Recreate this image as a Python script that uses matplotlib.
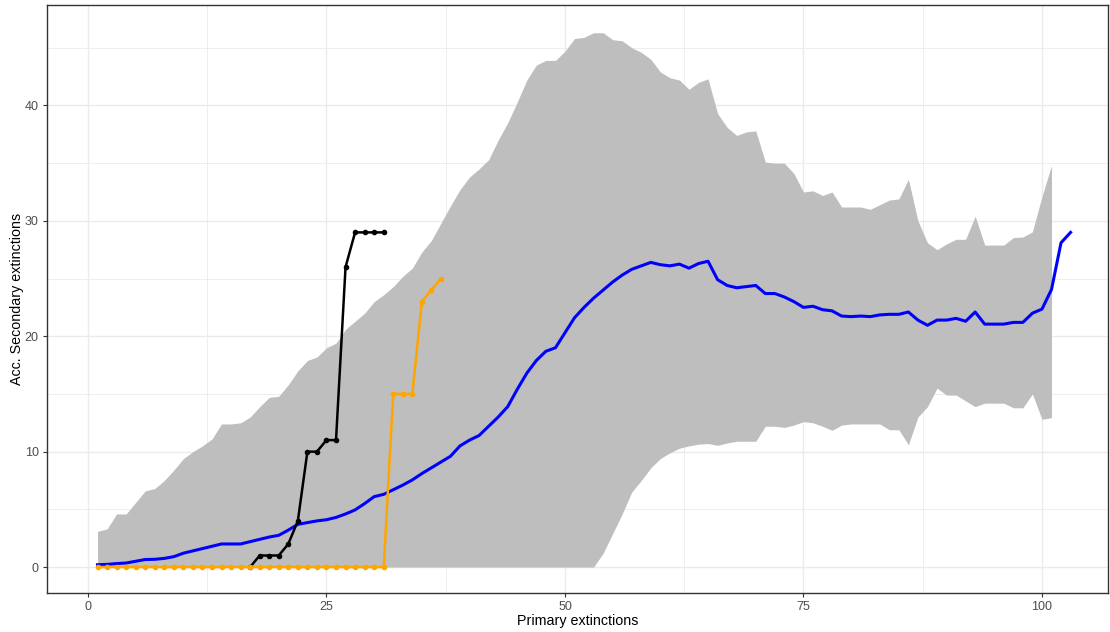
import numpy as np
import matplotlib
matplotlib.use("Agg")
import matplotlib.pyplot as plt
from matplotlib.ticker import MultipleLocator

plt.rcParams['font.family'] = ['Liberation Sans Narrow', 'Liberation Sans', 'DejaVu Sans']

# simulated removals: mean and range of accumulated secondary extinctions
sim_x = np.arange(1, 102)
sim_upper = [3.1, 3.3, 4.6, 4.6, 5.6, 6.6, 6.8, 7.5, 8.4, 9.4,
             10.0, 10.5, 11.1, 12.4, 12.4, 12.5, 13.0, 13.9, 14.7, 14.8,
             15.8, 17.0, 17.9, 18.2, 19.0, 19.4, 20.6, 21.3, 22.0, 23.0,
             23.6, 24.3, 25.2, 25.9, 27.3, 28.3, 29.8, 31.3, 32.7, 33.8,
             34.5, 35.3, 37.0, 38.5, 40.3, 42.2, 43.5, 43.9, 43.9, 44.7,
             45.8, 45.9, 46.3, 46.3, 45.7, 45.6, 45.0, 44.6, 44.0, 42.9,
             42.4, 42.2, 41.4, 42.0, 42.3, 39.3, 38.1, 37.4, 37.7, 37.8,
             35.1, 35.0, 35.0, 34.1, 32.5, 32.6, 32.2, 32.5, 31.2, 31.2,
             31.2, 31.0, 31.4, 31.8, 31.9, 33.6, 30.0, 28.1, 27.5, 28.0,
             28.4, 28.4, 30.4, 27.9, 27.9, 27.9, 28.55, 28.6, 29.05, 32.1,
             34.8]
sim_lower = [0.0] * 53 + [
             1.2, 2.9, 4.6, 6.5, 7.5, 8.6, 9.4, 9.9, 10.3, 10.5,
             10.65, 10.7, 10.55, 10.75, 10.9, 10.9, 10.9, 12.2, 12.2, 12.1,
             12.3, 12.6, 12.5, 12.2, 11.85, 12.3, 12.4, 12.4, 12.4, 12.4,
             11.9, 11.9, 10.6, 13.0, 13.9, 15.5, 14.9, 14.9, 14.4, 13.9,
             14.2, 14.2, 14.2, 13.8, 13.8, 15.0, 12.8, 12.95]

mean_x = np.arange(1, 104)
mean_sec = [0.2, 0.23, 0.3, 0.35, 0.5, 0.65, 0.67, 0.75, 0.9, 1.2,
            1.4, 1.6, 1.8, 2.0, 2.0, 2.0, 2.2, 2.4, 2.6, 2.75,
            3.2, 3.7, 3.85, 4.0, 4.1, 4.3, 4.6, 4.95, 5.5, 6.1,
            6.3, 6.7, 7.1, 7.55, 8.1, 8.6, 9.1, 9.6, 10.5, 11.0,
            11.4, 12.2, 13.0, 13.9, 15.4, 16.8, 17.9, 18.7, 19.0, 20.3,
            21.6, 22.5, 23.3, 24.0, 24.7, 25.3, 25.8, 26.1, 26.4, 26.2,
            26.1, 26.25, 25.9, 26.3, 26.5, 24.9, 24.4, 24.2, 24.3, 24.4,
            23.7, 23.7, 23.4, 23.0, 22.5, 22.6, 22.3, 22.2, 21.75, 21.7,
            21.75, 21.7, 21.85, 21.9, 21.9, 22.1, 21.4, 20.95, 21.4, 21.4,
            21.55, 21.3, 22.1, 21.05, 21.05, 21.05, 21.2, 21.2, 22.0, 22.35,
            24.05, 28.1, 29.0]

# targeted removal sequences
black_x = np.arange(17, 32)
black_sec = [0, 1, 1, 1, 2, 4, 10, 10, 11, 11, 26, 29, 29, 29, 29]

orange_x = np.arange(1, 38)
orange_sec = [0] * 31 + [15, 15, 15, 23, 24, 25]

fig = plt.figure(figsize=(11.1, 6.32), dpi=100)
ax = fig.add_axes([0.0423, 0.0617, 0.9557, 0.9303])

ax.fill_between(sim_x, sim_lower, sim_upper, color='#BEBEBE', linewidth=0, zorder=2)
ax.plot(mean_x, mean_sec, color='#0000FF', lw=2.2, zorder=3)
ax.plot(black_x, black_sec, color='black', lw=1.8, marker='o', ms=3.0, zorder=4)
ax.plot(orange_x, orange_sec, color='#FFA500', lw=1.8, marker='o', ms=3.0, zorder=5)

ax.set_xlim(-4.3, 106.9)
ax.set_ylim(-2.25, 48.7)
ax.xaxis.set_major_locator(MultipleLocator(25))
ax.xaxis.set_minor_locator(MultipleLocator(12.5))
ax.yaxis.set_major_locator(MultipleLocator(10))
ax.yaxis.set_minor_locator(MultipleLocator(5))

ax.grid(which='major', color='#EBEBEB', lw=1.0, zorder=0)
ax.grid(which='minor', color='#EBEBEB', lw=0.6, zorder=0)
ax.set_axisbelow(True)
for s in ax.spines.values():
    s.set_color('#333333')
    s.set_linewidth(1.0)
ax.tick_params(which='major', length=3, width=0.8, color='#333333',
               labelsize=9, labelcolor='#4D4D4D', pad=3)
ax.tick_params(which='minor', length=0)

ax.set_xlabel('Primary extinctions', fontsize=10.3)
ax.set_ylabel('Acc. Secondary extinctions', fontsize=10.3)
ax.xaxis.set_label_coords(0.5, -0.036)
ax.yaxis.set_label_coords(-0.0215, 0.5)

fig.savefig('out.png', dpi=100)
